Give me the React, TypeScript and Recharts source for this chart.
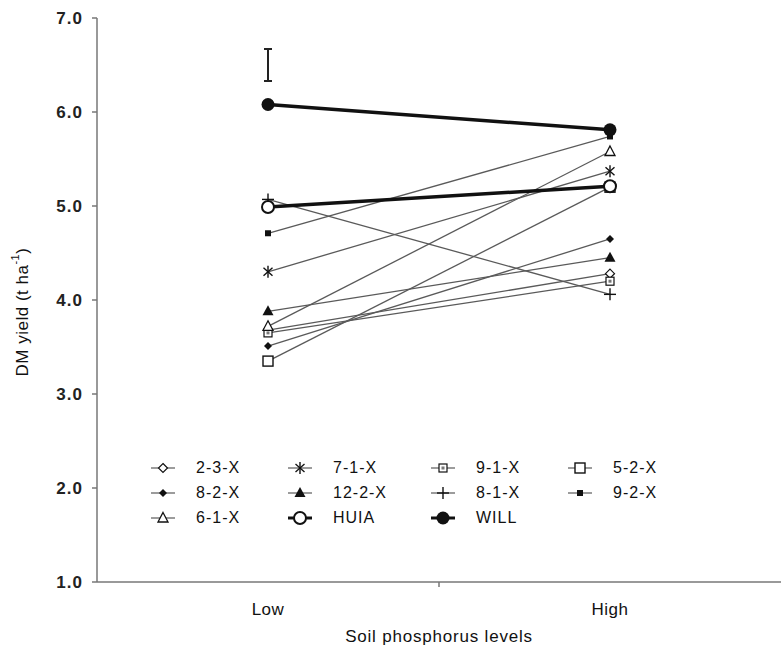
import * as React from "react";
import { ComposedChart, Line, XAxis, YAxis, ErrorBar, Label } from "recharts";

// values (t DM/ha)
const levels = ["Low", "High"];
const levelPos = [0.5, 1.5];
const genotypes = ["2-3-X", "7-1-X", "9-1-X", "5-2-X", "8-2-X", "12-2-X", "8-1-X", "9-2-X", "6-1-X", "HUIA", "WILL"];
const lowYield = [3.68, 4.3, 3.65, 3.35, 3.51, 3.88, 5.07, 4.71, 3.72, 4.99, 6.08];
const highYield = [4.28, 5.37, 4.2, 5.2, 4.65, 4.45, 4.06, 5.74, 5.58, 5.21, 5.81];
const lsdMid = 6.5;
const lsdHalf = 0.17;
const yTicks = [1, 2, 3, 4, 5, 6, 7];

const FONT = "'Liberation Sans', Arial, sans-serif";
const INK = "#111";
const THIN = "#5a5a5a";
const AXIS = "#777";
const TICK_SIZE = 5;
const TICK_MARGIN = 4;

type Kind =
  | "diamondOpen" | "asterisk" | "squareDot" | "squareOpen" | "diamond"
  | "triangle" | "plus" | "square" | "triangleOpen" | "circleOpen" | "circle";

const marker: Record<string, Kind> = {
  "2-3-X": "diamondOpen",
  "7-1-X": "asterisk",
  "9-1-X": "squareDot",
  "5-2-X": "squareOpen",
  "8-2-X": "diamond",
  "12-2-X": "triangle",
  "8-1-X": "plus",
  "9-2-X": "square",
  "6-1-X": "triangleOpen",
  HUIA: "circleOpen",
  WILL: "circle",
};
const bold = (g: string) => g === "HUIA" || g === "WILL";

const rows = levels.map((lv, i) => {
  const r: any = { pos: levelPos[i], level: lv };
  genotypes.forEach((g, j) => {
    r[g] = i === 0 ? lowYield[j] : highYield[j];
  });
  if (i === 0) {
    r.lsd = lsdMid;
    r.lsdErr = lsdHalf;
  }
  return r;
});

function Marker({ kind, cx, cy }: { kind: Kind; cx: number; cy: number }) {
  switch (kind) {
    case "diamondOpen":
      return <path d={`M${cx},${cy - 4.5}L${cx + 4.5},${cy}L${cx},${cy + 4.5}L${cx - 4.5},${cy}Z`} fill="#fff" stroke={INK} strokeWidth={1.2} />;
    case "diamond":
      return <path d={`M${cx},${cy - 4}L${cx + 4},${cy}L${cx},${cy + 4}L${cx - 4},${cy}Z`} fill={INK} />;
    case "asterisk":
      return (
        <g stroke={INK} strokeWidth={1.4}>
          <line x1={cx - 4.5} y1={cy - 4} x2={cx + 4.5} y2={cy + 4} />
          <line x1={cx - 4.5} y1={cy + 4} x2={cx + 4.5} y2={cy - 4} />
          <line x1={cx} y1={cy - 6} x2={cx} y2={cy + 6} />
        </g>
      );
    case "squareDot":
      return (
        <g>
          <rect x={cx - 4} y={cy - 4} width={8} height={8} fill="#fff" stroke={INK} strokeWidth={1.2} />
          <rect x={cx - 1.5} y={cy - 1.5} width={3} height={3} fill="#777" />
        </g>
      );
    case "squareOpen":
      return <rect x={cx - 5} y={cy - 5} width={10} height={10} fill="#fff" stroke={INK} strokeWidth={1.4} />;
    case "square":
      return <rect x={cx - 3} y={cy - 3} width={6} height={6} fill={INK} />;
    case "triangle":
      return <path d={`M${cx},${cy - 6}L${cx + 5.5},${cy + 4}L${cx - 5.5},${cy + 4}Z`} fill={INK} />;
    case "triangleOpen":
      return <path d={`M${cx},${cy - 5.5}L${cx + 5},${cy + 4}L${cx - 5},${cy + 4}Z`} fill="#fff" stroke={INK} strokeWidth={1.3} />;
    case "plus":
      return (
        <g stroke={INK} strokeWidth={1.4}>
          <line x1={cx - 6} y1={cy} x2={cx + 6} y2={cy} />
          <line x1={cx} y1={cy - 6} x2={cx} y2={cy + 6} />
        </g>
      );
    case "circleOpen":
      return <circle cx={cx} cy={cy} r={6} fill="#fff" stroke={INK} strokeWidth={2} />;
    case "circle":
      return <circle cx={cx} cy={cy} r={6.5} fill={INK} />;
  }
  return null;
}

function XTick(props: any) {
  const { x, y, payload } = props;
  const axisY = y - TICK_SIZE - TICK_MARGIN;
  if (payload.value === 1) {
    return <line x1={x} x2={x} y1={axisY} y2={axisY + 5} stroke={AXIS} strokeWidth={1.5} />;
  }
  const idx = levelPos.indexOf(payload.value);
  return (
    <text x={x} y={axisY + 33} textAnchor="middle" fontSize={17} letterSpacing={0.5} fontFamily={FONT} fill={INK}>
      {levels[idx]}
    </text>
  );
}

function YTitle() {
  const cx = 22;
  const cy = 312;
  return (
    <text
      x={cx}
      y={cy}
      transform={`rotate(-90 ${cx} ${cy})`}
      textAnchor="middle"
      dominantBaseline="central"
      fontSize={17}
      letterSpacing={0.5}
      fontFamily={FONT}
      fill={INK}
    >
      DM yield (t ha
      <tspan dy={-7} fontSize={11}>-1</tspan>
      <tspan dy={7}>)</tspan>
    </text>
  );
}

function LegendBox() {
  const colX = [163, 300, 443, 580];
  const rowY = [468, 493, 518];
  return (
    <div style={{ position: "absolute", left: 0, top: 0, pointerEvents: "none" }}>
      {genotypes.map((g, i) => {
        const c = i % 4;
        const r = Math.floor(i / 4);
        const mx = colX[c];
        const my = rowY[r];
        return (
          <div key={g}>
            <svg style={{ position: "absolute", left: mx - 14, top: my - 8 }} width={28} height={16}>
              <line
                x1={2}
                x2={26}
                y1={8}
                y2={8}
                stroke={bold(g) ? INK : THIN}
                strokeWidth={bold(g) ? 3 : 1.2}
              />
              <Marker kind={marker[g]} cx={14} cy={8} />
            </svg>
            <div
              style={{
                position: "absolute",
                left: mx + 33,
                top: my - 10,
                fontFamily: FONT,
                fontSize: 16,
                letterSpacing: 1,
                lineHeight: "20px",
                color: INK,
                whiteSpace: "nowrap",
              }}
            >
              {g}
            </div>
          </div>
        );
      })}
    </div>
  );
}

export default function App() {
  const order = [...genotypes.filter((g) => !bold(g)), "HUIA", "WILL"];
  return (
    <div style={{ position: "absolute", left: 0, top: 0, width: 781, height: 653, background: "#fff" }}>
      <ComposedChart width={781} height={653} data={rows} margin={{ top: 18, right: 0, bottom: 0, left: 0 }}>
        <XAxis
          dataKey="pos"
          type="number"
          domain={[0, 2]}
          ticks={[0.5, 1, 1.5]}
          interval={0}
          tick={<XTick />}
          tickLine={false}
          tickSize={TICK_SIZE}
          tickMargin={TICK_MARGIN}
          axisLine={{ stroke: AXIS, strokeWidth: 1.5 }}
          height={71}
        >
          <Label
            value="Soil phosphorus levels"
            position="insideBottom"
            offset={11}
            style={{ fontSize: 17, letterSpacing: 0.8, fontFamily: FONT, fill: INK }}
          />
        </XAxis>
        <YAxis
          type="number"
          domain={[1, 7]}
          ticks={yTicks}
          interval={0}
          width={97}
          tickFormatter={(v: number) => v.toFixed(1)}
          tick={{ fontSize: 17, fontWeight: 700, fontFamily: FONT, fill: "#222", letterSpacing: 1 }}
          tickSize={TICK_SIZE}
          tickMargin={9}
          tickLine={{ stroke: AXIS, strokeWidth: 1.5 }}
          axisLine={{ stroke: AXIS, strokeWidth: 1.5 }}
        >
          <Label content={<YTitle />} />
        </YAxis>
        {order.map((g) => (
          <Line
            key={g}
            dataKey={g}
            type="linear"
            stroke={bold(g) ? INK : THIN}
            strokeWidth={bold(g) ? 3.5 : 1.3}
            isAnimationActive={false}
            activeDot={false}
            dot={(p: any) => <Marker key={`${g}-${p.index}`} kind={marker[g]} cx={p.cx} cy={p.cy} />}
          />
        ))}
        <Line dataKey="lsd" stroke="none" dot={false} activeDot={false} isAnimationActive={false}>
          <ErrorBar dataKey="lsdErr" direction="y" width={4} stroke="#222" strokeWidth={2} />
        </Line>
      </ComposedChart>
      <LegendBox />
    </div>
  );
}
